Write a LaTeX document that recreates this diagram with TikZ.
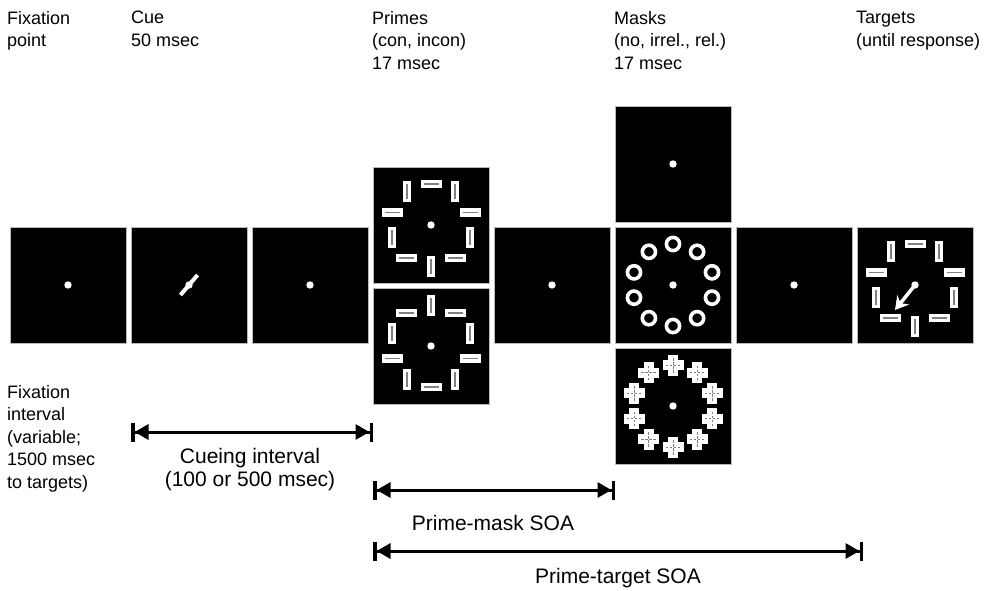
\documentclass[tikz,border=0pt]{standalone}
\usepackage{fontspec}
\setmainfont{Liberation Sans}
\usetikzlibrary{arrows.meta,positioning,calc}

% one white bar with a grey slit, at angle #2 round panel #1, turned by #3
\newcommand{\slitbar}[3]{%
  \begin{scope}[shift={($(#1)+(#2:41)$)},rotate=#3]
    \fill[white] (-10.5,-4.2) rectangle (10.5,4.2);
    \draw[gray,line width=1.5pt] (-7.5,0) -- (7.5,0);
  \end{scope}}
% one plus-shaped mask element
\newcommand{\plusmask}[2]{%
  \begin{scope}[shift={($(#1)+(#2:41)$)}]
    \fill[white] (-10.5,-5) rectangle (10.5,5);
    \fill[white] (-5,-10.5) rectangle (5,10.5);
    \draw[gray,line width=0.9pt,dash pattern=on 2.5pt off 1.5pt] (-7.5,0) -- (7.5,0) (0,-7.5) -- (0,7.5);
  \end{scope}}

\begin{document}
\begin{tikzpicture}[x=1pt,y=1pt,
  panel/.style={draw=gray!55,line width=0.8pt,fill=black,minimum size=116pt,inner sep=0pt,outer sep=0pt},
  lbl/.style={font=\fontsize{18}{22.5}\selectfont,inner sep=0pt,align=left},
  biglbl/.style={lbl,font=\fontsize{21}{23}\selectfont},
  span/.style={line width=3pt,
    {Bar[width=19pt,line width=3.5pt]Triangle[length=14pt,width=15pt]}-{Triangle[length=14pt,width=15pt]Bar[width=19pt,line width=3.5pt]}}]
  \useasboundingbox (0,0) rectangle (987,590);

  % panels
  \node[panel] (fixpt) at (68,305) {};
  \node[panel] (cue) at (189,305) {};
  \node[panel] (blankA) at (310,305) {};
  \node[panel] (primecon) at (431,365) {};
  \node[panel] (primeincon) at (431,244) {};
  \node[panel] (blankB) at (552,305) {};
  \node[panel] (maskno) at (673,426) {};
  \node[panel] (maskirr) at (673,305) {};
  \node[panel] (maskrel) at (673,184) {};
  \node[panel] (blankC) at (794,305) {};
  \node[panel] (target) at (915,305) {};

  % fixation dots
  \foreach \p in {fixpt,cue,blankA,primecon,primeincon,blankB,maskno,maskirr,maskrel,blankC,target}
    \fill[white] (\p) circle (3.7);
  \draw[white,line width=4pt] ($(cue)+(-8.5,-10)$) -- ($(cue)+(8.5,10)$);

  % rings of elements
  \foreach \k in {0,...,9}{
    \pgfmathsetmacro{\ang}{90+36*\k}
    \pgfmathsetmacro{\rot}{90*mod(\k,2)}
    \pgfmathsetmacro{\rotb}{90-\rot}
    \slitbar{primecon}{\ang}{\rot}
    \slitbar{primeincon}{\ang}{\rotb}
    \slitbar{target}{\ang}{\rot}
    \draw[white,line width=3.6pt] ($(maskirr)+(\ang:41)$) circle (6.6);
    \plusmask{maskrel}{\ang}
  }
  \draw[white,line width=3.5pt,-{Stealth[length=13pt,width=15pt]}] (target.center) -- ++(-20,-25);

  % headings
  \node[lbl,anchor=north west] (hfix) at (7,579) {Fixation\\point};
  \node[lbl,anchor=north west] (hcue) at (131,579) {Cue\\50 msec};
  \node[lbl,anchor=north west] (hprime) at (372,579) {Primes\\(con, incon)\\17 msec};
  \node[lbl,anchor=north west] (hmask) at (614,579) {Masks\\(no, irrel., rel.)\\17 msec};
  \node[lbl,anchor=north west] (htarget) at (856,579) {Targets\\(until response)};
  \node[lbl,anchor=north west] (hinterval) at (7,205) {Fixation\\interval\\(variable;\\1500 msec\\to targets)};

  % intervals
  \coordinate (cuebeg) at (cue.west |- 0,158);
  \coordinate (cueend) at (primeincon.west |- 0,158);
  \coordinate (pmbeg) at (primeincon.west |- 0,100);
  \coordinate (pmend) at (maskirr.west |- 0,100);
  \coordinate (ptbeg) at (primeincon.west |- 0,39);
  \coordinate (ptend) at (863,39);
  \draw[span] (cuebeg) -- (cueend);
  \draw[span] (pmbeg) -- (pmend);
  \draw[span] (ptbeg) -- (ptend);
  \node[biglbl,align=center] (lcue) at (250,120) {Cueing interval\\(100 or 500 msec)};
  \node[biglbl] (lpm) at (493,67) {Prime-mask SOA};
  \node[biglbl] (lpt) at (618,12) {Prime-target SOA};
\end{tikzpicture}
\end{document}
